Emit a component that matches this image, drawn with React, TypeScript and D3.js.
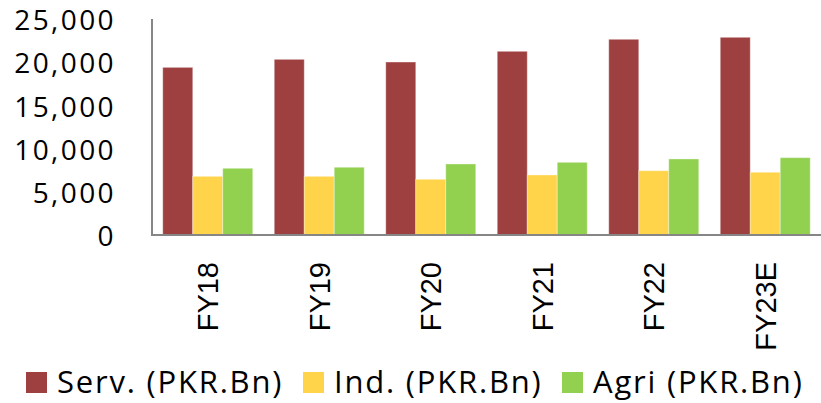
import { useEffect, useRef } from 'react'
import * as d3 from 'd3'

const categories = ['FY18', 'FY19', 'FY20', 'FY21', 'FY22', 'FY23E']
const servValues = [19400, 20330, 20020, 21260, 22650, 22880]
const indValues = [6790, 6790, 6450, 6950, 7440, 7260]
const agriValues = [7720, 7840, 8220, 8410, 8800, 8950]
const seriesNames = ['Serv. (PKR.Bn)', 'Ind. (PKR.Bn)', 'Agri (PKR.Bn)']
const seriesColors = ['#9E403F', '#FFD44B', '#92D050']
const yTicks = [0, 5000, 10000, 15000, 20000, 25000]

export default function App() {
  const svgRef = useRef<SVGSVGElement>(null)

  useEffect(() => {
    if (!svgRef.current) return
    document.body.style.margin = '0'
    const svg = d3.select(svgRef.current)
    svg.selectAll('*').remove()

    const width = 821
    const height = 403
    const margin = { top: 19, right: 0, bottom: 168, left: 152 }
    const innerH = height - margin.top - margin.bottom

    const series = [servValues, indValues, agriValues]

    const x0 = d3.scaleBand<string>()
      .domain(categories)
      .range([margin.left, width - margin.right])
      .paddingInner(0.193)
      .paddingOuter(0.0965)

    const x1 = d3.scaleBand<number>()
      .domain(d3.range(series.length))
      .range([0, x0.bandwidth()])

    const y = d3.scaleLinear()
      .domain([0, 25000])
      .range([margin.top + innerH, margin.top])

    // bars
    const groups = svg.append('g')
      .selectAll('g')
      .data(categories)
      .join('g')
      .attr('transform', d => `translate(${x0(d)},0)`)

    groups.selectAll('rect')
      .data((_, i) => series.map((s, k) => ({ k, v: s[i] })))
      .join('rect')
      .attr('x', d => x1(d.k)!)
      .attr('y', d => y(d.v))
      .attr('width', x1.bandwidth())
      .attr('height', d => y(0) - y(d.v))
      .attr('fill', d => seriesColors[d.k])
      .attr('stroke', 'rgba(255,255,255,0.35)')
      .attr('stroke-width', 1)

    // axes lines
    svg.append('line')
      .attr('x1', margin.left).attr('x2', margin.left)
      .attr('y1', y(25000)).attr('y2', y(0))
      .attr('stroke', '#868686').attr('stroke-width', 2)
    svg.append('line')
      .attr('x1', margin.left - 1).attr('x2', width)
      .attr('y1', y(0)).attr('y2', y(0))
      .attr('stroke', '#868686').attr('stroke-width', 2)

    // y tick labels
    svg.append('g')
      .selectAll('text')
      .data(yTicks)
      .join('text')
      .attr('x', 116)
      .attr('y', d => y(d))
      .attr('dy', '0.4em')
      .attr('text-anchor', 'end')
      .attr('font-family', '"Open Sans", sans-serif')
      .attr('font-size', 28)
      .attr('letter-spacing', 2.4)
      .attr('fill', '#000')
      .text(d => d3.format(',')(d))

    // category labels
    svg.append('g')
      .selectAll('text')
      .data(categories)
      .join('text')
      .attr('transform', d => `translate(${x0(d)! + x0.bandwidth() / 2},262) rotate(-90)`)
      .attr('dy', '0.36em')
      .attr('text-anchor', 'end')
      .attr('font-family', '"Liberation Sans", Arial, sans-serif')
      .attr('font-size', 29)
      .attr('fill', '#000')
      .text(d => d)

    // legend
    const legendX = [26, 303, 562]
    const legend = svg.append('g')
      .selectAll('g')
      .data(seriesNames)
      .join('g')
      .attr('transform', (_, i) => `translate(${legendX[i]},372)`)
    legend.append('rect')
      .attr('width', 21)
      .attr('height', 21)
      .attr('fill', (_, i) => seriesColors[i])
    legend.append('text')
      .attr('x', 31)
      .attr('y', 21)
      .attr('font-family', '"Open Sans", sans-serif')
      .attr('font-size', 31)
      .attr('letter-spacing', 1.8)
      .attr('fill', '#000')
      .text(d => d)
  }, [])

  return <svg ref={svgRef} width={821} height={403} style={{ display: 'block' }} />
}
